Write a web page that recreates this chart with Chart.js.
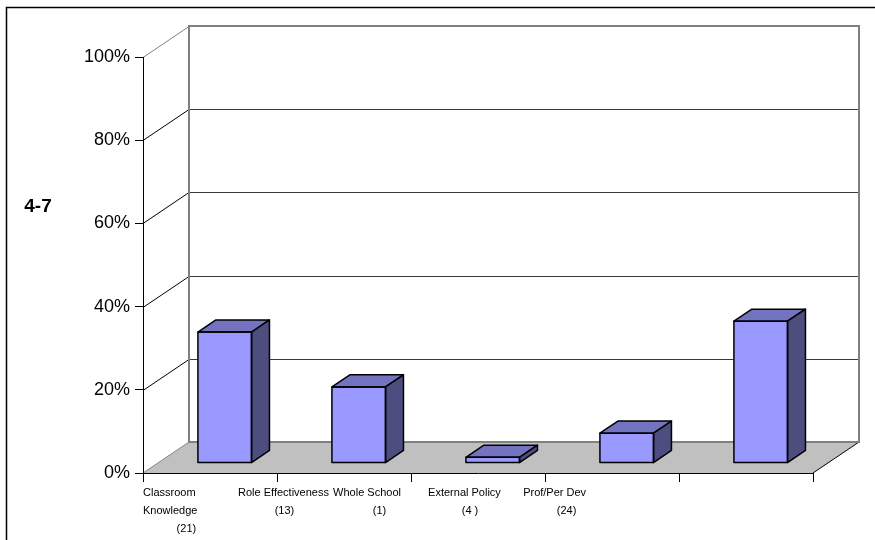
<!DOCTYPE html>
<html>
<head>
  <title>4-7</title>
  <style>
    body { margin: 0; background: #fff; }
  </style>
</head>
<body>
  <canvas id="chart" width="875" height="540"></canvas>
  <script src="https://cdn.jsdelivr.net/npm/chart.js"></script>
  <script>
    // category labels, second line padded so it sits roughly where Excel put it
    const categories = [
      ['Classroom', 'Knowledge', '           (21)'],
      ['Role Effectiveness', '            (13)'],
      ['Whole School', '             (1)'],
      ['External Policy', '           (4 )'],
      ['Prof/Per Dev', '           (24)']
    ];
    const percentValues = [31.5, 18.3, 1.4, 7.2, 34.1];
    const yTickStep = 20;
    const axisTitle = '4-7';

    const DEPTH_X = 46, DEPTH_Y = 31;   // wall depth
    const BAR_SHIFT = 0.32;             // bar front is a third of the way back
    const BAR_DEPTH = 0.39;

    const box3d = {
      id: 'box3d',
      beforeDraw(chart) {
        const { ctx, chartArea: a, scales: { y } } = chart;
        ctx.save();

        // outer frame (left + top only, picture is cropped)
        ctx.strokeStyle = '#000';
        ctx.lineWidth = 1.5;
        ctx.beginPath();
        ctx.moveTo(6.5, 540);
        ctx.lineTo(6.5, 7.5);
        ctx.lineTo(875, 7.5);
        ctx.stroke();

        // back wall
        const bl = a.left + DEPTH_X, bt = a.top - DEPTH_Y;
        const br = a.right + DEPTH_X, bb = a.bottom - DEPTH_Y;
        ctx.fillStyle = '#fff';
        ctx.fillRect(bl, bt, br - bl, bb - bt);

        // gridlines on back wall + left wall diagonals
        for (let v = 0; v <= 100; v += yTickStep) {
          const py = Math.round(y.getPixelForValue(v)) + 0.5;
          ctx.lineWidth = 1;
          ctx.strokeStyle = v === 100 ? '#808080' : '#000';
          ctx.beginPath();
          ctx.moveTo(a.left, py);
          ctx.lineTo(bl, py - DEPTH_Y);
          ctx.stroke();
          if (v > 0 && v < 100) {
            ctx.strokeStyle = '#3a3a3a';
            ctx.beginPath();
            ctx.moveTo(bl, py - DEPTH_Y);
            ctx.lineTo(br, py - DEPTH_Y);
            ctx.stroke();
          }
        }

        // floor
        ctx.fillStyle = '#c0c0c0';
        ctx.beginPath();
        ctx.moveTo(a.left, a.bottom);
        ctx.lineTo(a.right, a.bottom);
        ctx.lineTo(br, bb);
        ctx.lineTo(bl, bb);
        ctx.closePath();
        ctx.fill();
        ctx.strokeStyle = '#000';
        ctx.lineWidth = 1;
        ctx.beginPath();
        ctx.moveTo(a.right, a.bottom);
        ctx.lineTo(br, bb);
        ctx.stroke();
        ctx.strokeStyle = '#909090';
        ctx.beginPath();
        ctx.moveTo(a.left, a.bottom);
        ctx.lineTo(bl, bb);
        ctx.stroke();

        // back wall border
        ctx.strokeStyle = '#808080';
        ctx.lineWidth = 2;
        ctx.strokeRect(bl, bt, br - bl, bb - bt);

        // horizontal axis title
        ctx.fillStyle = '#000';
        ctx.font = 'bold 19px Arial, "Liberation Sans", sans-serif';
        ctx.textAlign = 'center';
        ctx.textBaseline = 'middle';
        ctx.fillText(axisTitle, 38, 207);
        ctx.restore();
      },
      beforeDatasetsDraw(chart) {
        chart.ctx.save();
        chart.ctx.translate(DEPTH_X * BAR_SHIFT, -DEPTH_Y * BAR_SHIFT);
      },
      afterDatasetsDraw(chart) {
        const ctx = chart.ctx;
        const dx = DEPTH_X * BAR_DEPTH, dy = DEPTH_Y * BAR_DEPTH;
        ctx.lineWidth = 1.5;
        ctx.lineJoin = 'round';
        ctx.strokeStyle = '#000';
        chart.getDatasetMeta(0).data.forEach(bar => {
          const l = bar.x - bar.width / 2, r = bar.x + bar.width / 2;
          const t = bar.y, b = bar.base;
          // top
          ctx.fillStyle = '#7373c0';
          ctx.beginPath();
          ctx.moveTo(l, t);
          ctx.lineTo(l + dx, t - dy);
          ctx.lineTo(r + dx, t - dy);
          ctx.lineTo(r, t);
          ctx.closePath();
          ctx.fill();
          ctx.stroke();
          // side
          ctx.fillStyle = '#4d4d80';
          ctx.beginPath();
          ctx.moveTo(r, t);
          ctx.lineTo(r + dx, t - dy);
          ctx.lineTo(r + dx, b - dy);
          ctx.lineTo(r, b);
          ctx.closePath();
          ctx.fill();
          ctx.stroke();
          // front outline again so the edges are crisp
          ctx.strokeRect(l, t, r - l, b - t);
        });
        ctx.restore();
      }
    };

    const font = 'Arial, "Liberation Sans", sans-serif';

    new Chart(document.getElementById('chart'), {
      type: 'bar',
      data: {
        labels: categories.map(c => c.join(' ')),
        datasets: [{
          data: percentValues,
          backgroundColor: '#9999ff',
          borderColor: '#000',
          borderWidth: 0,
          barPercentage: 0.4,
          categoryPercentage: 1,
          xAxisID: 'x',
          yAxisID: 'y'
        }]
      },
      options: {
        responsive: false,
        animation: false,
        devicePixelRatio: 1,
        layout: { padding: { left: 0, top: 57, right: 62, bottom: 0 } },
        plugins: { legend: { display: false }, tooltip: { enabled: false } },
        scales: {
          y: {
            min: 0,
            max: 100,
            ticks: {
              stepSize: yTickStep,
              callback: v => v + '%',
              color: '#000',
              padding: 5,
              font: { family: font, size: 18 }
            },
            grid: { drawOnChartArea: false, tickLength: 8, color: '#000' },
            border: { color: '#000', width: 1 },
            afterFit: s => { s.width = 143; }
          },
          x: {
            type: 'category',
            position: 'bottom',
            ticks: { display: false },
            grid: { offset: true, drawOnChartArea: false, tickLength: 9, color: '#000' },
            border: { color: '#000', width: 1 }
          },
          xl: {
            type: 'linear',
            position: 'bottom',
            offset: false,
            bounds: 'data',
            min: 0,
            max: 7.05,
            afterBuildTicks: s => { s.ticks = categories.map((c, i) => ({ value: i })); },
            afterFit: s => { s.height = 58; },
            ticks: {
              align: 'start',
              autoSkip: false,
              maxRotation: 0,
              padding: -6,
              color: '#000',
              font: { family: font, size: 11, lineHeight: 1.64 },
              callback: (v, i) => categories[i]
            },
            grid: { display: false, offset: false },
            border: { display: false }
          }
        }
      },
      plugins: [box3d]
    });
  </script>
</body>
</html>
